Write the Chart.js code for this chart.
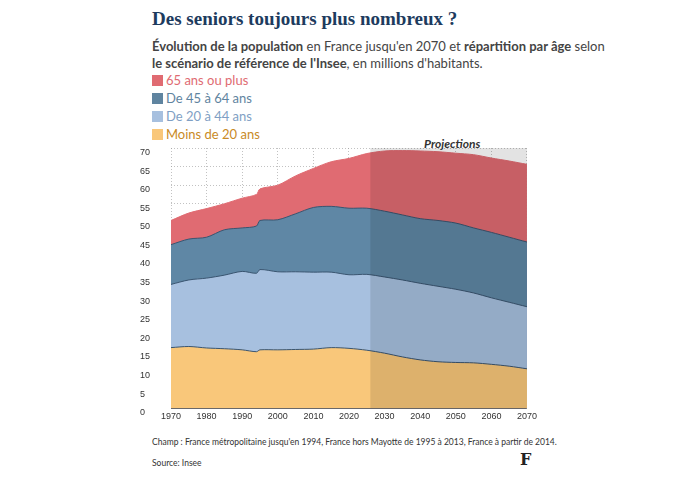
<!DOCTYPE html>
<html><head><meta charset="utf-8">
<script src="https://cdn.jsdelivr.net/npm/chart.js@4"></script>
<style>
body{margin:0;background:#fff;font-family:Lato,"Noto Sans",sans-serif;color:#333}
#wrap{position:relative;width:680px;height:477px}
.t{position:absolute;white-space:nowrap}
#title{left:152px;top:8px;font:bold 19px "Liberation Serif","DejaVu Serif",serif;color:#1d3b5e}
#sub{left:152px;top:38px;font-size:13px;line-height:17px;color:#444}
.lg{left:152px;font-size:13px}
.lg i{display:inline-block;width:11px;height:11px;margin-right:3px;vertical-align:-1px}
#chartBox{position:absolute;left:140px;top:140px;width:400px;height:285px}
</style></head><body>
<div id="wrap">
<div id="title" class="t">Des seniors toujours plus nombreux ?</div>
<div id="sub" class="t"><b>Évolution de la population</b> en France jusqu'en 2070 et <b>répartition par âge</b> selon<br><b>le scénario de référence de l'Insee</b>, en millions d'habitants.</div>
<div class="t lg" style="top:72px;color:#e06b72"><i style="background:#e06b72"></i>65 ans ou plus</div>
<div class="t lg" style="top:90px;color:#5f84a0"><i style="background:#5f84a0"></i>De 45 à 64 ans</div>
<div class="t lg" style="top:108px;color:#7f9fc4"><i style="background:#a7c0df"></i>De 20 à 44 ans</div>
<div class="t lg" style="top:126px;color:#c98a26"><i style="background:#f9c77a"></i>Moins de 20 ans</div>
<div class="t" style="left:424px;top:136px;font-size:12px;font-weight:bold;font-style:italic;color:#333">Projections</div>
<div id="chartBox"><canvas id="c"></canvas></div>
<div class="t" style="left:152px;top:437px;font-size:8.5px;color:#333">Champ : France métropolitaine jusqu'en 1994, France hors Mayotte de 1995 à 2013, France à partir de 2014.</div>
<div class="t" style="left:152px;top:458px;font-size:8.5px;color:#333">Source: Insee</div>
<div class="t" style="left:520px;top:450px;font:bold 16px 'DejaVu Serif',serif;color:#222">F</div>
</div>
<script>
// years and cumulative tops, converted to group sizes
var years = [1970,1975,1980,1985,1990,1994,1995,2000,2005,2010,2015,2020,2025,2030,2035,2040,2045,2050,2055,2060,2065,2070];
var under20 = [16.3,16.6,16.2,16.0,15.7,15.2,15.7,15.7,15.8,15.9,16.3,16.1,15.6,14.8,13.8,13.0,12.5,12.3,12.2,11.8,11.3,10.6];
var from20to44 = [17.0,17.9,18.8,19.8,21.1,21.1,21.6,21.0,20.9,20.7,20.3,19.8,20.4,20.5,20.7,20.6,20.3,19.7,18.8,17.9,17.2,16.7];
var from45to64 = [10.7,11.0,11.0,12.2,11.7,12.7,13.2,14.0,15.6,17.4,17.7,17.9,17.8,17.7,17.5,17.4,17.7,17.8,17.5,17.6,17.5,17.4];
var over65 = [6.5,7.0,7.7,7.0,8.0,8.5,8.5,9.3,10.2,10.5,12.0,13.4,14.7,16.2,17.3,18.2,18.5,18.8,19.7,20.0,20.5,20.9];
var projStart = 2026;

function pts(arr){ return arr.map(function(v,i){ return {x: years[i], y: v}; }); }
function ds(label, arr, bg, line){
  return {label: label, data: pts(arr), fill: true, backgroundColor: bg, borderColor: line,
          borderWidth: 1, pointRadius: 0, tension: 0.3};
}

var projShade = {
  id: 'projShade',
  afterDatasetsDraw: function(chart){
    var ctx = chart.ctx, a = chart.chartArea, x = chart.scales.x.getPixelForValue(projStart);
    ctx.save();
    ctx.fillStyle = 'rgba(0,0,0,0.11)';
    ctx.fillRect(x, a.top, a.right - x, a.bottom - a.top);
    ctx.restore();
  }
};

new Chart(document.getElementById('c'), {
  type: 'line',
  data: { datasets: [
    ds('Moins de 20 ans', under20, '#f9c77a', '#3a5570'),
    ds('De 20 à 44 ans', from20to44, '#a7c0df', '#3a5570'),
    ds('De 45 à 64 ans', from45to64, '#5f87a5', '#3a5570'),
    ds('65 ans ou plus', over65, '#e06b72', '#e06b72')
  ]},
  options: {
    responsive: true, maintainAspectRatio: false, animation: false,
    layout: { padding: { right: 10, top: 8 } },
    plugins: { legend: { display: false }, tooltip: { enabled: false } },
    scales: {
      x: { type: 'linear', min: 1970, max: 2070,
           ticks: { stepSize: 10, color: '#333', font: { size: 9 }, callback: function(v){ return v; } },
           grid: { color: '#999', lineWidth: 0.6, tickLength: 0, borderDash: [1,2] },
           border: { dash: [1,2], color: '#666' } },
      y: { stacked: true, min: 0, max: 70,
           ticks: { stepSize: 5, color: '#333', font: { size: 9 }, align: 'start', crossAlign: 'far', padding: 4 },
           grid: { color: '#999', lineWidth: 0.6, tickLength: 0, drawTicks: false },
           border: { display: false, dash: [1,2] },
           afterFit: function(s){ s.width = 31; } }
    }
  },
  plugins: [projShade]
});
</script>
</body></html>
